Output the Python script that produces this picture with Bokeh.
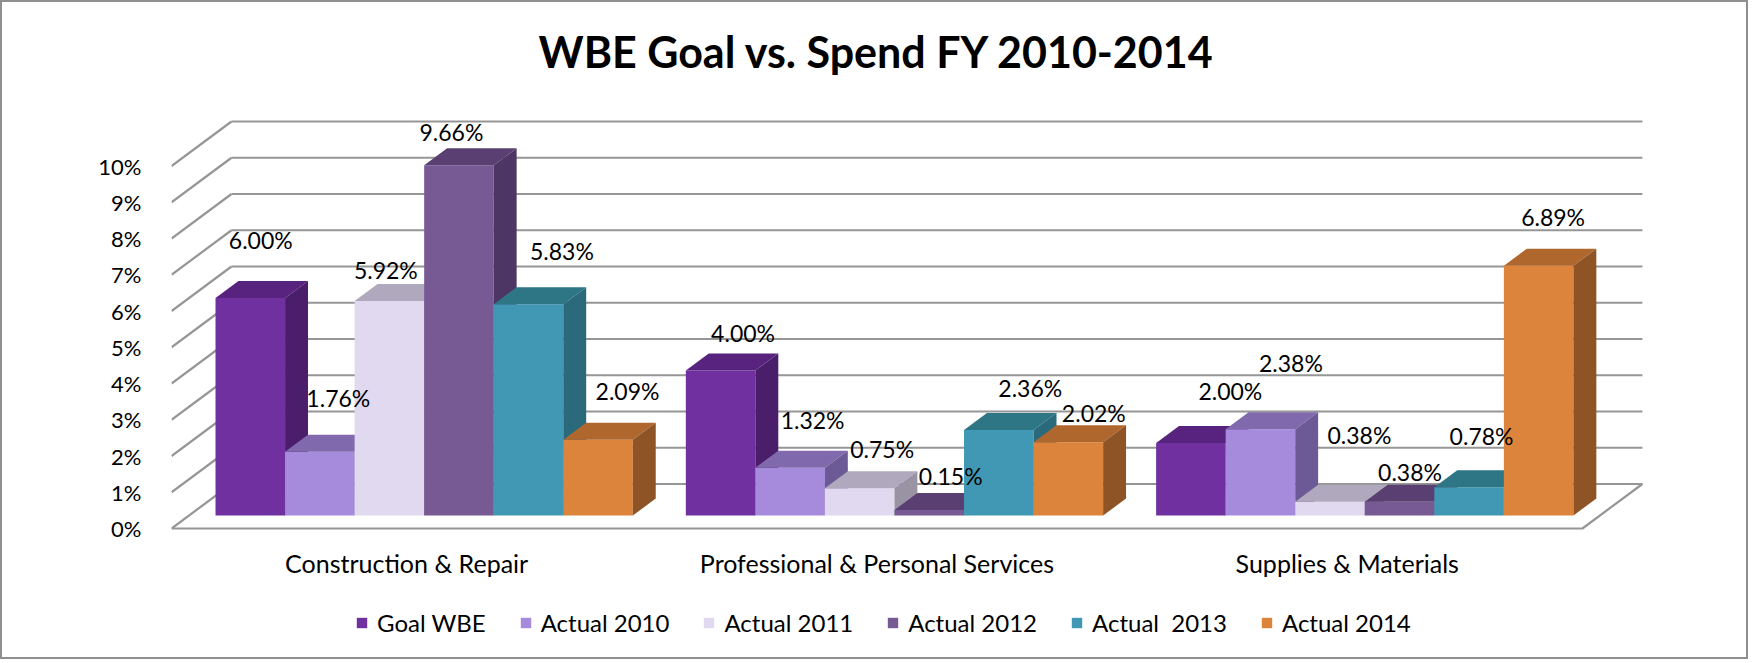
from bokeh.plotting import figure
from bokeh.models import (FixedTicker, Label, Legend, LegendItem, ColumnDataSource,
                          Range1d, PrintfTickFormatter)
from bokeh.embed import file_html
from bokeh.resources import INLINE
from bokeh.core.properties import value

# ---------------- data ----------------
categories = ["Construction & Repair", "Professional & Personal Services", "Supplies & Materials"]
series_names = ["Goal WBE", "Actual 2010", "Actual 2011", "Actual 2012", "Actual  2013", "Actual 2014"]
goal_wbe = [6.00, 4.00, 2.00]
actual_2010 = [1.76, 1.32, 2.38]
actual_2011 = [5.92, 0.75, 0.38]
actual_2012 = [9.66, 0.15, 0.38]
actual_2013 = [5.83, 2.36, 0.78]
actual_2014 = [2.09, 2.02, 6.89]
y_ticks = [0, 1, 2, 3, 4, 5, 6, 7, 8, 9, 10]
title_text = "WBE Goal vs. Spend FY 2010-2014"

series_values = [goal_wbe, actual_2010, actual_2011, actual_2012, actual_2013, actual_2014]

# ---------------- styles ----------------
front_colors = ["#7030A0", "#A68BDC", "#E1D9F0", "#775A94", "#4198B4", "#DD843C"]
top_colors = ["#57237F", "#8069AC", "#B0A8BC", "#5A4072", "#2E7686", "#B0672E"]
side_colors = ["#4A1E6B", "#6B5A96", "#9A93A4", "#4D3663", "#2A6A7B", "#8E5426"]
grid_color = "#969696"
FONT = "Lato"

# label nudges (screen px) per series / category, matching the hand-placed labels
label_dx = [[-1, 11, 28], [7, 11, 19], [-15, 11, 18], [-19, 10, -1], [22, 20, 1], [18, 14, 3]]
label_dy = [[-50, -29, -44], [-45, -39, -58], [-22, -31, -58], [-25, -26, -21], [-45, -33, -43], [-40, -21, -40]]

# ---------------- geometry (oblique 3D projection in data units) ----------------
PPX = 470.3          # px per category unit
PPY = 36.25          # px per percent
DEPTH_DX = 60 / PPX  # full depth shift along x (data units)
DEPTH_DY = 44.5 / PPY
Z0, Z1 = 0.292, 0.674
ZM = (Z0 + Z1) / 2
GAP = 26.5 / PPX
BAR_W = (1 - 2 * GAP) / len(series_names)
N_CAT = len(categories)


def proj(x, y, z):
    return x + z * DEPTH_DX, y + z * DEPTH_DY


W, H = 1748, 659          # canvas (plus 2px css border each side -> 1752 x 663)
ML = 169                  # frame left
ZERO_Y = 526              # canvas y of the 0% front edge
TITLE_BASE_Y = 49         # canvas y of the title baseline
frame_w = W - ML
x_end = frame_w / PPX
y_end = ZERO_Y / PPY
y_start = -(H - ZERO_Y) / PPY

p = figure(width=W, height=H, output_backend="svg", toolbar_location=None,
           x_range=Range1d(0, x_end), y_range=Range1d(y_start, y_end),
           x_axis_location=None,
           min_border_left=ML, min_border_right=0, min_border_top=0, min_border_bottom=0,
           background_fill_color="white", border_fill_color="white", outline_line_color=None)
p.styles = {"border": "2px solid #8f8f8f"}
p.xgrid.visible = False
p.ygrid.visible = False

# y axis
p.yaxis.ticker = FixedTicker(ticks=y_ticks)
p.yaxis.formatter = PrintfTickFormatter(format="%d%%")
p.yaxis.axis_line_color = None
p.yaxis.major_tick_line_color = None
p.yaxis.minor_tick_line_color = None
p.yaxis.major_label_text_font = FONT
p.yaxis.major_label_text_font_size = "22px"
p.yaxis.major_label_text_color = "#000000"
p.yaxis.major_label_standoff = 24

# walls: back wall gridlines, side-wall diagonals, floor edges
xs, ys = [], []
for v in y_ticks:
    a = proj(0, v, 1)
    b = proj(N_CAT, v, 1)
    xs.append([a[0], b[0]]); ys.append([a[1], b[1]])
    c = proj(0, v, 0)
    xs.append([c[0], a[0]]); ys.append([c[1], a[1]])
f0 = proj(0, 0, 0); f1 = proj(N_CAT, 0, 0); f2 = proj(N_CAT, 0, 1)
xs.append([f0[0], f1[0], f2[0]]); ys.append([f0[1], f1[1], f2[1]])
p.multi_line(xs, ys, line_color=grid_color, line_width=2.2)

# bars
legend_items = []
lab_x, lab_y, lab_t, lab_dx, lab_dy = [], [], [], [], []
for j, (name, vals) in enumerate(zip(series_names, series_values)):
    fl, fr, fb, ft = [], [], [], []
    txs, tys, sxs, sys_ = [], [], [], []
    for i, v in enumerate(vals):
        x0 = i + GAP + j * BAR_W
        x1 = x0 + BAR_W
        a = proj(x0, 0, Z0); b = proj(x1, v, Z0)
        fl.append(a[0]); fr.append(b[0]); fb.append(a[1]); ft.append(b[1])
        pts = [proj(x0, v, Z0), proj(x1, v, Z0), proj(x1, v, Z1), proj(x0, v, Z1)]
        txs.append([q[0] for q in pts]); tys.append([q[1] for q in pts])
        pts = [proj(x1, 0, Z0), proj(x1, 0, Z1), proj(x1, v, Z1), proj(x1, v, Z0)]
        sxs.append([q[0] for q in pts]); sys_.append([q[1] for q in pts])
        c = proj(x0 + BAR_W / 2, v, ZM)
        lab_x.append(c[0]); lab_y.append(c[1]); lab_t.append(f"{v:.2f}%")
        lab_dx.append(label_dx[j][i]); lab_dy.append(label_dy[j][i])
    r = p.quad(left=fl, right=fr, bottom=fb, top=ft, fill_color=front_colors[j], line_color=None)
    p.patches(txs, tys, fill_color=top_colors[j], line_color=None)
    p.patches(sxs, sys_, fill_color=side_colors[j], line_color=None)
    legend_items.append(LegendItem(label=name, renderers=[r]))

# data labels
src = ColumnDataSource(dict(x=lab_x, y=lab_y, t=lab_t, dx=lab_dx, dy=lab_dy))
p.text(x="x", y="y", text="t", x_offset="dx", y_offset="dy", source=src,
       text_align="center", text_baseline="middle", text_font=value(FONT),
       text_font_size="23px", text_color="#000000")

# category labels along the front floor edge
cat_src = ColumnDataSource(dict(x=[i + 0.5 for i in range(N_CAT)], y=[0] * N_CAT, t=categories))
p.text(x="x", y="y", text="t", y_offset=34, source=cat_src, text_align="center",
       text_baseline="middle", text_font=value(FONT), text_font_size="25px", text_color="#000000")

# legend
legend = Legend(items=legend_items, orientation="horizontal", location=(184, 24),
                glyph_width=13, glyph_height=13, label_standoff=9, spacing=33,
                padding=0, margin=0, border_line_color=None, background_fill_alpha=0,
                label_text_font=FONT, label_text_font_size="24px", label_text_color="#000000")
p.add_layout(legend, "center")

# title
title = Label(x=N_CAT / 2, y=(ZERO_Y - TITLE_BASE_Y) / PPY, text=title_text, text_align="center",
              text_baseline="alphabetic", text_font=FONT, text_font_style="bold",
              text_font_size="43px", text_color="#000000")
p.add_layout(title)

open("out.html", "w").write(file_html(p, INLINE))
